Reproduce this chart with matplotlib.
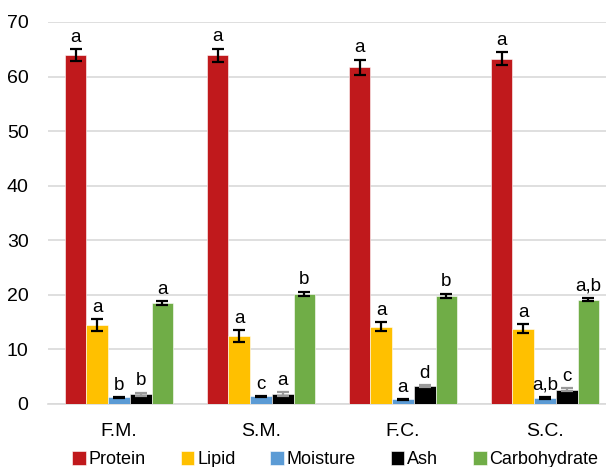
import numpy as np
import matplotlib.pyplot as plt

plt.rcParams['font.family'] = ['Liberation Sans', 'DejaVu Sans']

# proximate composition of the four samples
samples = ['F.M.', 'S.M.', 'F.C.', 'S.C.']
components = ['Protein', 'Lipid', 'Moisture', 'Ash', 'Carbohydrate']
colors = ['#C0191C', '#FFC000', '#5B9BD5', '#000000', '#70AD47']

protein = [63.9, 63.9, 61.7, 63.3]
lipid = [14.4, 12.5, 14.2, 13.8]
moisture = [1.2, 1.4, 0.85, 1.1]
ash = [1.8, 1.8, 3.3, 2.6]
carbohydrate = [18.5, 20.2, 19.8, 19.1]

protein_err = [1.1, 1.2, 1.4, 1.2]
lipid_err = [1.1, 1.1, 0.8, 0.8]
moisture_err = [0.1, 0.1, 0.1, 0.15]
ash_err = [0.3, 0.4, 0.2, 0.3]
carbohydrate_err = [0.4, 0.4, 0.4, 0.3]

# significance letters
protein_sig = ['a', 'a', 'a', 'a']
lipid_sig = ['a', 'a', 'a', 'a']
moisture_sig = ['b', 'c', 'a', 'a,b']
ash_sig = ['b', 'a', 'd', 'c']
carbohydrate_sig = ['a', 'b', 'b', 'a,b']

values = [protein, lipid, moisture, ash, carbohydrate]
errors = [protein_err, lipid_err, moisture_err, ash_err, carbohydrate_err]
letters = [protein_sig, lipid_sig, moisture_sig, ash_sig, carbohydrate_sig]
err_colors = ['black', 'black', 'black', '#9a9a9a', 'black']

fig = plt.figure(figsize=(6.06, 4.67), dpi=100)
ax = fig.add_axes([48 / 606, 1 - 404 / 467, 568 / 606, 382 / 467])

x = np.arange(len(samples))
w = 0.153
for i, comp in enumerate(components):
    pos = x + (i - 2) * w
    ax.bar(pos, values[i], w, color=colors[i], edgecolor='white', linewidth=0.4,
           label=comp, zorder=3)
    ax.errorbar(pos, values[i], yerr=errors[i], fmt='none', ecolor=err_colors[i],
                elinewidth=1.6, capsize=4, capthick=1.6, zorder=4)
    for p, v, e, s in zip(pos, values[i], errors[i], letters[i]):
        ax.text(p, v + e + 0.6, s, ha='center', va='bottom', fontsize=13.5)

ax.set_xlim(-0.5, 3.5)
ax.set_ylim(0, 70)
ax.set_yticks(range(0, 71, 10))
ax.set_xticks(x)
ax.set_xticklabels(samples)
ax.tick_params(axis='both', length=0, labelsize=14)
ax.tick_params(axis='x', pad=14)
ax.tick_params(axis='y', pad=14)
ax.grid(axis='y', color='#D9D9D9', linewidth=1.2, zorder=0)
for side in ['left', 'right', 'top']:
    ax.spines[side].set_visible(False)
ax.spines['bottom'].set_color('#D9D9D9')
ax.spines['bottom'].set_linewidth(1.2)

ax.legend(loc='upper center', bbox_to_anchor=(0.506, -0.105), ncol=5, frameon=False,
          fontsize=13, handlelength=0.75, handleheight=0.75, handletextpad=0.15,
          columnspacing=1.94, borderaxespad=0)

fig.savefig('out.png', dpi=100)
